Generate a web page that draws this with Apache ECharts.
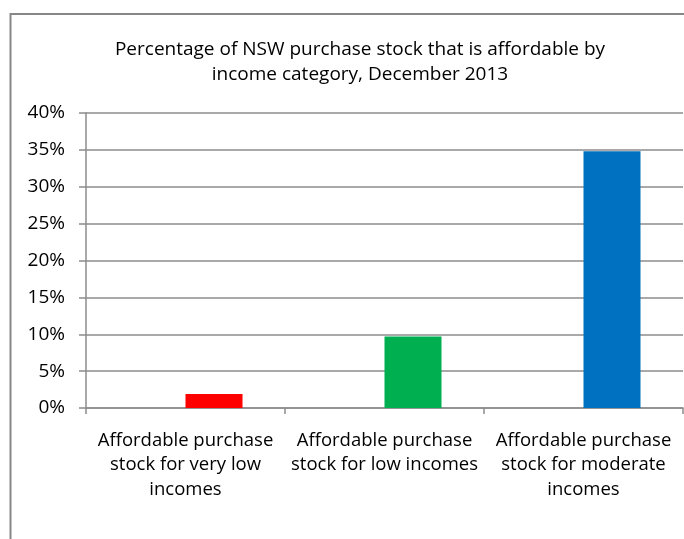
<!DOCTYPE html>
<html>
<head>
<meta charset="utf-8">
<script src="https://cdn.jsdelivr.net/npm/echarts@6/dist/echarts.min.js"></script>
<style>
  html, body { margin: 0; padding: 0; background: #fff; }
  #chart { width: 684px; height: 539px; }
</style>
</head>
<body>
<div id="chart"></div>
<script>
// Share of NSW purchase stock affordable to each income group (Dec 2013)
const categories = [
  'Affordable purchase\nstock for very low\nincomes',
  'Affordable purchase\nstock for low incomes',
  'Affordable purchase\nstock for moderate\nincomes'
];
const values = [1.9, 9.7, 34.8];
// the first slot in each category is an empty series, so the bars sit right of centre
const emptySlot = [null, null, null];
const barColors = ['#ff0000', '#00b050', '#0070c0'];
const yTicks = [0, 5, 10, 15, 20, 25, 30, 35, 40];
const titleText = 'Percentage of NSW purchase stock that is affordable by\nincome category, December 2013';

const FONT = 'Open Sans';
const GREY = '#8c8c8c';
const chart = echarts.init(document.getElementById('chart'), null, { renderer: 'canvas' });

chart.setOption({
  animation: false,
  backgroundColor: '#ffffff',
  graphic: [{
    type: 'rect',
    shape: { x: 10.5, y: 14, width: 700, height: 600 },
    style: { fill: 'none', stroke: '#878787', lineWidth: 2 },
    silent: true
  }],
  title: {
    text: titleText,
    left: 355,
    top: 32,
    textAlign: 'center',
    textStyle: { fontFamily: FONT, fontSize: 19, fontWeight: 'normal', color: '#000', lineHeight: 25 }
  },
  grid: { left: 86, right: 1, top: 113, bottom: 131, containLabel: false },
  xAxis: {
    type: 'category',
    data: categories,
    axisLine: { lineStyle: { color: GREY, width: 1.5 } },
    axisTick: { show: true, alignWithLabel: false, length: 6, lineStyle: { color: GREY, width: 1.5 } },
    axisLabel: { interval: 0, margin: 20, color: '#000', fontFamily: FONT, fontSize: 18.5, lineHeight: 24.5 }
  },
  yAxis: {
    type: 'value',
    min: yTicks[0], max: yTicks[yTicks.length - 1], interval: yTicks[1] - yTicks[0],
    axisLine: { show: true, lineStyle: { color: GREY, width: 1.5 } },
    axisTick: { show: true, length: 7, lineStyle: { color: GREY, width: 1.5 } },
    splitLine: { lineStyle: { color: GREY, width: 1.5 } },
    axisLabel: { formatter: '{value}%', margin: 21, color: '#000', fontFamily: FONT, fontSize: 19 }
  },
  series: [
    {
      type: 'bar',
      barWidth: 57,
      barGap: '0%',
      data: emptySlot
    },
    {
      type: 'bar',
      barWidth: 57,
      barGap: '0%',
      data: values.map((v, i) => ({ value: v, itemStyle: { color: barColors[i] } }))
    }
  ]
});
</script>
</body>
</html>
